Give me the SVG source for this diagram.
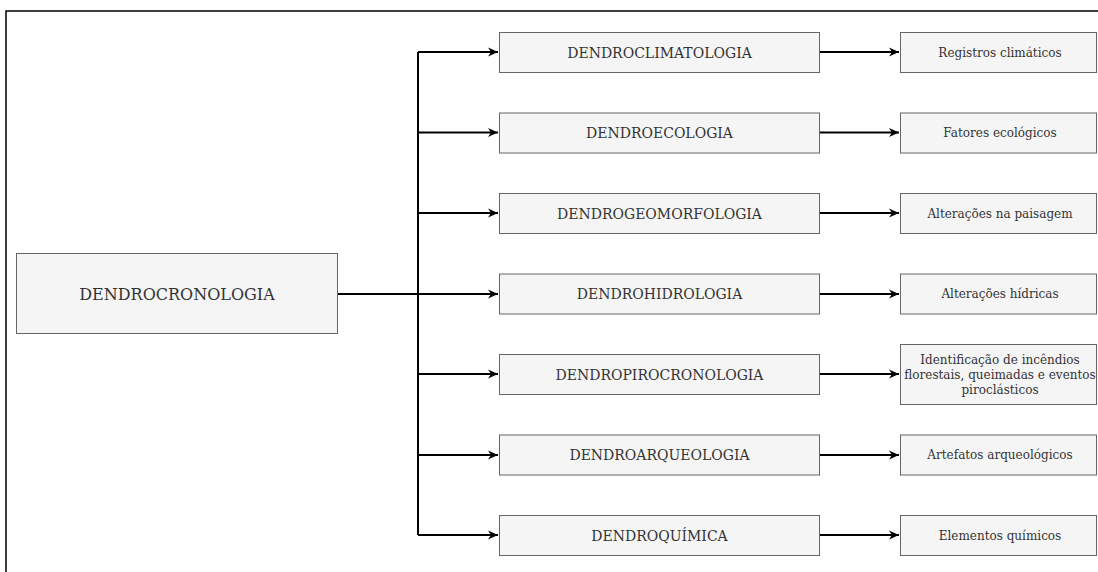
<svg xmlns="http://www.w3.org/2000/svg" width="1098" height="572" viewBox="0 0 1098 572">
  <style>
    .box { fill: #f5f5f5; stroke: #666666; stroke-width: 1; }
    .lbl { font-family: "DejaVu Serif", "Liberation Serif", serif; fill: #333333; text-anchor: middle; dominant-baseline: central; }
    .main { font-size: 16px; }
    .mid { font-size: 14px; }
    .leaf { font-size: 12px; }
    .wire { fill: none; stroke: #000000; stroke-width: 2; }
  </style>
  <defs>
    <marker id="arrow" viewBox="0 0 10 10" refX="10" refY="5" markerWidth="11" markerHeight="10" markerUnits="userSpaceOnUse" orient="auto">
      <path d="M0,0.5 L10,5 L0,9.5 L3,5 Z" fill="#000000"/>
    </marker>
  </defs>
  <rect x="0" y="0" width="1098" height="572" fill="#ffffff"/>
  <!-- outer frame -->
  <rect x="6" y="11" width="1100" height="580" fill="none" stroke="#000000" stroke-width="1.5"/>

  <g id="connectors">
    <path class="wire" d="M338,294 H418"/>
    <path class="wire" d="M418,52 V535"/>
    <path class="wire" d="M418,52 H498" marker-end="url(#arrow)"/>
    <path class="wire" d="M418,132.5 H498" marker-end="url(#arrow)"/>
    <path class="wire" d="M418,213 H498" marker-end="url(#arrow)"/>
    <path class="wire" d="M418,294 H498" marker-end="url(#arrow)"/>
    <path class="wire" d="M418,374 H498" marker-end="url(#arrow)"/>
    <path class="wire" d="M418,455 H498" marker-end="url(#arrow)"/>
    <path class="wire" d="M418,535 H498" marker-end="url(#arrow)"/>
    <path class="wire" d="M820,52 H899" marker-end="url(#arrow)"/>
    <path class="wire" d="M820,132.5 H899" marker-end="url(#arrow)"/>
    <path class="wire" d="M820,213 H899" marker-end="url(#arrow)"/>
    <path class="wire" d="M820,294 H899" marker-end="url(#arrow)"/>
    <path class="wire" d="M820,374 H899" marker-end="url(#arrow)"/>
    <path class="wire" d="M820,455 H899" marker-end="url(#arrow)"/>
    <path class="wire" d="M820,535 H899" marker-end="url(#arrow)"/>
  </g>

  <g id="dendrocronologia">
    <rect class="box" x="16.5" y="253.5" width="321" height="80"/>
    <text class="lbl main" x="177" y="294">DENDROCRONOLOGIA</text>
  </g>

  <g id="dendroclimatologia">
    <rect class="box" x="499.5" y="32.5" width="320" height="40"/>
    <text class="lbl mid" x="659.5" y="52.5">DENDROCLIMATOLOGIA</text>
  </g>
  <g id="dendroecologia">
    <rect class="box" x="499.5" y="113" width="320" height="40"/>
    <text class="lbl mid" x="659.5" y="133">DENDROECOLOGIA</text>
  </g>
  <g id="dendrogeomorfologia">
    <rect class="box" x="499.5" y="193.5" width="320" height="40"/>
    <text class="lbl mid" x="659.5" y="213.5">DENDROGEOMORFOLOGIA</text>
  </g>
  <g id="dendrohidrologia">
    <rect class="box" x="499.5" y="274" width="320" height="40"/>
    <text class="lbl mid" x="659.5" y="294">DENDROHIDROLOGIA</text>
  </g>
  <g id="dendropirocronologia">
    <rect class="box" x="499.5" y="354.5" width="320" height="40"/>
    <text class="lbl mid" x="659.5" y="374.5">DENDROPIROCRONOLOGIA</text>
  </g>
  <g id="dendroarqueologia">
    <rect class="box" x="499.5" y="435" width="320" height="40"/>
    <text class="lbl mid" x="659.5" y="455">DENDROARQUEOLOGIA</text>
  </g>
  <g id="dendroquimica">
    <rect class="box" x="499.5" y="515.5" width="320" height="40"/>
    <text class="lbl mid" x="659.5" y="535.5">DENDROQUÍMICA</text>
  </g>

  <g id="registros">
    <rect class="box" x="900.5" y="32.5" width="196" height="40"/>
    <text class="lbl leaf" x="1000" y="52.5">Registros climáticos</text>
  </g>
  <g id="fatores">
    <rect class="box" x="900.5" y="113" width="196" height="40"/>
    <text class="lbl leaf" x="1000" y="133">Fatores ecológicos</text>
  </g>
  <g id="paisagem">
    <rect class="box" x="900.5" y="193.5" width="196" height="40"/>
    <text class="lbl leaf" x="1000" y="213.5">Alterações na paisagem</text>
  </g>
  <g id="hidricas">
    <rect class="box" x="900.5" y="274" width="196" height="40"/>
    <text class="lbl leaf" x="1000" y="294">Alterações hídricas</text>
  </g>
  <g id="incendios">
    <rect class="box" x="900.5" y="344.5" width="196" height="60"/>
    <text class="lbl leaf" x="1000" y="359.5">Identificação de incêndios</text>
    <text class="lbl leaf" x="1000" y="374.5">florestais, queimadas e eventos</text>
    <text class="lbl leaf" x="1000" y="389.5">piroclásticos</text>
  </g>
  <g id="artefatos">
    <rect class="box" x="900.5" y="435" width="196" height="40"/>
    <text class="lbl leaf" x="1000" y="455">Artefatos arqueológicos</text>
  </g>
  <g id="quimicos">
    <rect class="box" x="900.5" y="515.5" width="196" height="40"/>
    <text class="lbl leaf" x="1000" y="535.5">Elementos químicos</text>
  </g>
</svg>
